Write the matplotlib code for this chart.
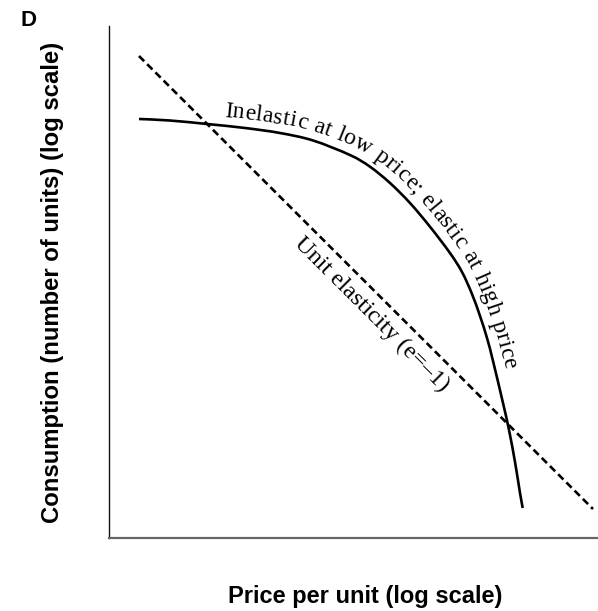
import numpy as np
import matplotlib
matplotlib.use("Agg")
import matplotlib.pyplot as plt
from matplotlib.path import Path
from matplotlib.patches import PathPatch
from matplotlib.font_manager import FontProperties, findfont
from matplotlib.ft2font import FT2Font

# demand curve (price, consumption), arbitrary log units
price = [6.13, 12.47, 20.04, 27.81, 34.97, 41.72, 49.28, 53.37, 57.46, 61.55,
         65.64, 69.73, 72.19, 74.23, 75.87, 77.30, 78.53, 80.57, 81.80, 83.03,
         84.05, 84.60]
consumption = [81.84, 81.54, 80.86, 80.08, 79.10, 77.64, 74.80, 72.52, 69.34, 65.43,
               60.80, 55.66, 51.95, 47.66, 43.36, 39.06, 34.57, 26.37, 21.09, 14.84,
               8.79, 5.86]

# unit elasticity reference line
unit_price = [6.13, 98.98]
unit_consumption = [94.14, 5.66]

curve_label = "Inelastic at low price; elastic at high price"
unit_label = "Unit elasticity (e=\u20131)"

SERIF = "Liberation Serif"
SANS = "Liberation Sans"


def smooth_path(x, y):
    """Catmull-Rom through the points, as cubic Bezier pieces."""
    P = np.column_stack([x, y])
    Pp = np.vstack([P[0], P, P[-1]])
    verts = [P[0]]
    codes = [Path.MOVETO]
    for i in range(len(P) - 1):
        p0, p1, p2, p3 = Pp[i], Pp[i + 1], Pp[i + 2], Pp[i + 3]
        verts += [p1 + (p2 - p0) / 6, p2 - (p3 - p1) / 6, p2]
        codes += [Path.CURVE4] * 3
    return Path(verts, codes)


def text_along(ax, path, label, start_x, offset, size, family, tracking=0.0):
    """Lay a label out character by character along a path (display px)."""
    fp = FontProperties(family=family, size=size)
    font = FT2Font(findfont(fp))
    font.set_size(size, ax.figure.dpi)
    adv = np.array([font.load_char(ord(c)).linearHoriAdvance / 65536.0 + tracking
                    for c in label])

    dense = np.vstack([seg(np.linspace(0, 1, 40)) for seg, _ in path.iter_bezier()])
    pts = ax.transData.transform(dense)
    seg = np.diff(pts, axis=0)
    s = np.concatenate([[0], np.cumsum(np.hypot(seg[:, 0], seg[:, 1]))])
    sd = np.arange(0, s[-1], 0.5)
    px = np.interp(sd, s, pts[:, 0])
    py = np.interp(sd, s, pts[:, 1])

    w = 10
    idx = np.arange(len(sd))
    lo = np.clip(idx - w, 0, len(sd) - 1)
    hi = np.clip(idx + w, 0, len(sd) - 1)
    tx = px[hi] - px[lo]
    ty = py[hi] - py[lo]
    norm = np.hypot(tx, ty)
    tx, ty = tx / norm, ty / norm
    ox = px - ty * offset
    oy = py + tx * offset

    s2 = np.concatenate([[0], np.cumsum(np.hypot(np.diff(ox), np.diff(oy)))])
    x0 = ax.transData.transform((start_x, 0))[0]
    s0 = s2[np.argmax(ox >= x0)]

    inv = ax.transData.inverted()
    pos = s0
    for ch, a in zip(label, adv):
        c = pos + a / 2
        i = min(np.searchsorted(s2, c), len(s2) - 1)
        ang = np.degrees(np.arctan2(ty[i], tx[i]))
        dx, dy = inv.transform((ox[i], oy[i]))
        ax.text(dx, dy, ch, fontsize=size, family=family, rotation=ang,
                rotation_mode="anchor", ha="center", va="baseline", color="black")
        pos += a


fig = plt.figure(figsize=(5.98, 6.11), dpi=100)
ax = fig.add_axes([109 / 598, 1 - 538 / 611, 489 / 598, 512 / 611])
ax.set_xlim(0, 100)
ax.set_ylim(0, 100)
ax.set_xticks([])
ax.set_yticks([])
for side in ("top", "right"):
    ax.spines[side].set_visible(False)
ax.spines["left"].set_color("#111111")
ax.spines["left"].set_linewidth(1.0)
ax.spines["bottom"].set_color("#666666")
ax.spines["bottom"].set_linewidth(1.6)

demand = smooth_path(price, consumption)
ax.add_patch(PathPatch(demand, fill=False, edgecolor="black", lw=1.9,
                       capstyle="butt"))
ax.plot(unit_price, unit_consumption, color="black", lw=1.9, dashes=(2.8, 1.6))

text_along(ax, demand, curve_label, start_x=23.3, offset=9,
           size=17, family=SERIF, tracking=0.4)

# label for the unit elasticity line, parallel to it and below
p = ax.transData.transform(np.column_stack([unit_price, unit_consumption]))
d = p[1] - p[0]
L = np.hypot(*d)
t = d / L
mid = p[0] + d * 0.541 + np.array([t[1], -t[0]]) * 18.4
ang = np.degrees(np.arctan2(t[1], t[0]))
mx, my = ax.transData.inverted().transform(mid)
ax.text(mx, my, unit_label, fontsize=17.6, family=SERIF, rotation=ang,
        rotation_mode="anchor", ha="center", va="center")

fig.text(365 / 598, 1 - 596 / 611, "Price per unit (log scale)", family=SANS,
         fontweight="bold", fontsize=17, ha="center", va="center")
fig.text(53 / 598, 1 - 282 / 611, "Consumption (number of units) (log scale)",
         family=SANS, fontweight="bold", fontsize=17.2, rotation=90,
         ha="center", va="center")
fig.text(21 / 598, 1 - 26 / 611, "D", family=SANS, fontweight="bold",
         fontsize=16, ha="left", va="baseline")

fig.savefig("out.png", dpi=100)
